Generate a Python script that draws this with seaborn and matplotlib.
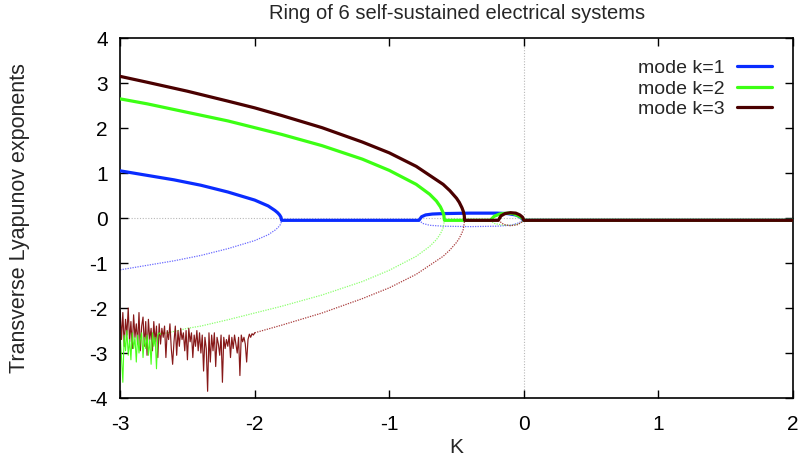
import numpy as np
import pandas as pd
import matplotlib
matplotlib.use("Agg")
import matplotlib.pyplot as plt
import seaborn as sns
from matplotlib import font_manager

# ---------------- data ----------------
# mode k=1 : largest transverse exponent (solid)
k1_x = [-3.0, -2.8, -2.6, -2.4, -2.2, -2.0, -1.9, -1.85, -1.83, -1.815, -1.805, -1.8, -1.5, -1.0, -0.78,
        -0.76, -0.73, -0.68, -0.6, -0.4, -0.2, -0.12, -0.06, -0.03, 0.0, 1.0, 2.0]
k1_y = [1.05, 0.95, 0.85, 0.73, 0.58, 0.40, 0.27, 0.17, 0.12, 0.07, 0.02, -0.05, -0.05, -0.05, -0.05,
        0.03, 0.07, 0.09, 0.10, 0.11, 0.11, 0.10, 0.07, 0.03, -0.05, -0.05, -0.05]
# mode k=1 : second exponent (dotted)
k1b_x = [-3.0, -2.8, -2.6, -2.4, -2.2, -2.0, -1.9, -1.85, -1.83, -1.815, -1.805, -1.8]
k1b_y = [-1.15, -1.05, -0.95, -0.83, -0.68, -0.50, -0.37, -0.27, -0.22, -0.17, -0.12, -0.05]
k1c_x = [-0.78, -0.75, -0.7, -0.6, -0.4, -0.2, -0.1, -0.05, -0.02, 0.0]
k1c_y = [-0.05, -0.12, -0.16, -0.18, -0.19, -0.18, -0.16, -0.12, -0.08, -0.05]

# mode k=2
k2_x = [-3.0, -2.8, -2.5, -2.2, -2.0, -1.8, -1.5, -1.2, -1.0, -0.8, -0.7, -0.65, -0.62, -0.60,
        -0.595, -0.59, -0.25, -0.22, -0.18, -0.12, -0.08, -0.04, -0.01, 0.0, 1.0, 2.0]
k2_y = [2.65, 2.54, 2.35, 2.16, 2.01, 1.86, 1.61, 1.31, 1.06, 0.75, 0.53, 0.38, 0.25, 0.12,
        0.07, -0.05, -0.05, 0.04, 0.09, 0.11, 0.10, 0.05, 0.00, -0.05, -0.05, -0.05]
k2b_x = [-2.7, -2.6, -2.5, -2.4, -2.2, -2.0, -1.8, -1.5, -1.2, -1.0, -0.8, -0.7, -0.65, -0.62, -0.60, -0.59]
k2b_y = [-2.58, -2.52, -2.45, -2.40, -2.26, -2.11, -1.96, -1.71, -1.41, -1.16, -0.85, -0.63, -0.48, -0.35, -0.22, -0.05]
k2c_x = [-0.25, -0.22, -0.15, -0.08, -0.03, 0.0]
k2c_y = [-0.05, -0.12, -0.16, -0.16, -0.12, -0.05]
k2_noise_x0, k2_noise_x1 = -3.0, -2.7
k2_noise = [-2.55, -3.10, -3.65, -2.60, -2.95, -2.50, -3.05, -2.70, -3.15, -2.55, -2.90,
            -2.65, -3.20, -2.60, -3.00, -2.70, -2.55, -3.10, -2.65, -2.90, -2.60, -3.05,
            -2.70, -3.25, -2.55, -2.85, -2.65, -3.35, -2.60, -2.55, -2.58]

# mode k=3
k3_x = [-3.0, -2.8, -2.5, -2.2, -2.0, -1.8, -1.5, -1.2, -1.0, -0.8, -0.6, -0.55, -0.5, -0.48,
        -0.46, -0.45, -0.443, -0.44, -0.19, -0.17, -0.14, -0.1, -0.06, -0.03, -0.01, 0.0, 1.0, 2.0]
k3_y = [3.15, 3.02, 2.82, 2.60, 2.45, 2.28, 2.01, 1.69, 1.45, 1.15, 0.75, 0.61, 0.44, 0.35,
        0.23, 0.15, 0.06, -0.05, -0.05, 0.05, 0.10, 0.12, 0.11, 0.07, 0.02, -0.05, -0.05, -0.05]
k3b_x = [-2.0, -1.8, -1.5, -1.2, -1.0, -0.8, -0.6, -0.55, -0.5, -0.48, -0.46, -0.45, -0.44]
k3b_y = [-2.55, -2.38, -2.11, -1.79, -1.55, -1.25, -0.85, -0.71, -0.54, -0.45, -0.33, -0.25, -0.05]
k3c_x = [-0.19, -0.15, -0.1, -0.05, -0.02, 0.0]
k3c_y = [-0.05, -0.14, -0.17, -0.15, -0.10, -0.05]
k3_noise_x0, k3_noise_x1 = -3.0, -2.0
k3_noise = [-2.05, -2.70, -2.10, -2.85, -2.25, -2.60, -2.00, -2.75, -2.30, -2.90,
            -2.15, -2.65, -2.35, -2.80, -2.10, -2.95, -2.40, -2.20, -2.85, -2.30,
            -3.05, -2.25, -2.70, -2.45, -2.95, -2.30, -2.75, -2.40, -3.10, -2.35,
            -2.80, -2.45, -2.65, -2.40, -3.10, -2.50, -2.70, -2.35, -2.90, -3.25,
            -2.75, -2.40, -3.05, -2.50, -2.85, -2.45, -2.70, -2.55, -2.95, -2.50,
            -3.15, -2.45, -2.75, -2.55, -3.10, -2.60, -2.85, -2.50, -2.95, -2.55,
            -3.00, -2.60, -3.40, -2.65, -2.90, -3.85, -2.55, -3.20, -2.60, -2.95,
            -2.55, -3.30, -2.65, -2.80, -3.05, -2.60, -3.65, -2.65, -2.90, -2.70,
            -2.85, -2.60, -3.10, -2.65, -2.90, -2.60, -2.80, -3.00, -2.65, -3.50,
            -2.60, -2.75, -2.65, -2.80, -3.20, -2.70, -2.58, -2.65, -2.57, -2.60, -2.55]

labels = ["mode k=1", "mode k=2", "mode k=3"]
colors = ["#0a2cff", "#3cff14", "#4a0000"]
light = ["#5a5aff", "#80ff60", "#a02828"]

x_ticks = [-3, -2, -1, 0, 1, 2]
y_ticks = [-4, -3, -2, -1, 0, 1, 2, 3, 4]

# ---------------- style ----------------
sns.set_theme(style="white")
avail = {f.name for f in font_manager.fontManager.ttflist}
fam = [f for f in ["Liberation Sans Narrow", "Liberation Sans", "DejaVu Sans"] if f in avail]
plt.rcParams["font.family"] = fam

fig = plt.figure(figsize=(8.01, 4.65), dpi=100)
ax = fig.add_axes([0.150, 0.144, 0.840, 0.774])

# zero axes
ax.axhline(0, color="#b8b8b8", lw=0.8, ls=(0, (1, 1.5)), zorder=0)
ax.axvline(0, color="#b8b8b8", lw=0.8, ls=(0, (1, 1.5)), zorder=0)

def line(x, y, color, lw, ls="-", alpha=1.0, label=None, z=2):
    df = pd.DataFrame({"x": x, "y": y})
    sns.lineplot(data=df, x="x", y="y", ax=ax, color=color, lw=lw, ls=ls, alpha=alpha,
                 sort=False, estimator=None, label=label, zorder=z)

# dotted secondary exponents
dot = (0, (1, 1))
line(k1b_x, k1b_y, light[0], 0.9, dot, 0.9)
line(k1c_x, k1c_y, light[0], 0.9, dot, 0.9)
line(k2b_x, k2b_y, light[1], 0.9, dot, 0.9)
line(k2c_x, k2c_y, light[1], 0.9, dot, 0.9)
line(k3b_x, k3b_y, light[2], 0.9, dot, 0.9)
line(k3c_x, k3c_y, light[2], 0.9, dot, 0.9)

# noisy regions
line(np.linspace(k3_noise_x0, k3_noise_x1, len(k3_noise)), k3_noise, "#7a0000", 0.85, "-", 0.9)
line(np.linspace(k2_noise_x0, k2_noise_x1, len(k2_noise)), k2_noise, "#40ff10", 0.8, "-", 0.95)

# main curves
line(k1_x, k1_y, colors[0], 2.3, label=labels[0], z=3)
line(k2_x, k2_y, colors[1], 2.3, label=labels[1], z=4)
line(k3_x, k3_y, colors[2], 2.3, label=labels[2], z=5)

ax.set_xlim(-3, 2)
ax.set_ylim(-4, 4)
ax.set_xticks(x_ticks)
ax.set_yticks(y_ticks)
ax.set_xticklabels([str(t) for t in x_ticks])
ax.set_yticklabels([str(t) for t in y_ticks])
ax.tick_params(direction="in", length=6, width=1, top=True, right=True,
               bottom=True, left=True, labelsize=15, colors="black")
ax.tick_params(axis="x", pad=12)
ax.tick_params(axis="y", pad=9)
for s in ax.spines.values():
    s.set_color("black")
    s.set_linewidth(1.2)

ax.set_xlabel("K", fontsize=15)
ax.xaxis.set_label_coords(0.5, -0.11)
ax.set_ylabel("Transverse Lyapunov exponents", fontsize=15.5)
ax.yaxis.set_label_coords(-0.134, 0.5)
ax.set_title("Ring of 6 self-sustained electrical systems", fontsize=14.5, pad=14)

leg = ax.legend(loc="upper right", frameon=False, markerfirst=False, fontsize=14,
                handlelength=1.8, borderaxespad=0.7, labelspacing=0.15, handletextpad=0.6)
for t in leg.get_texts():
    t.set_ha("right")

fig.savefig("out.png", dpi=100)
